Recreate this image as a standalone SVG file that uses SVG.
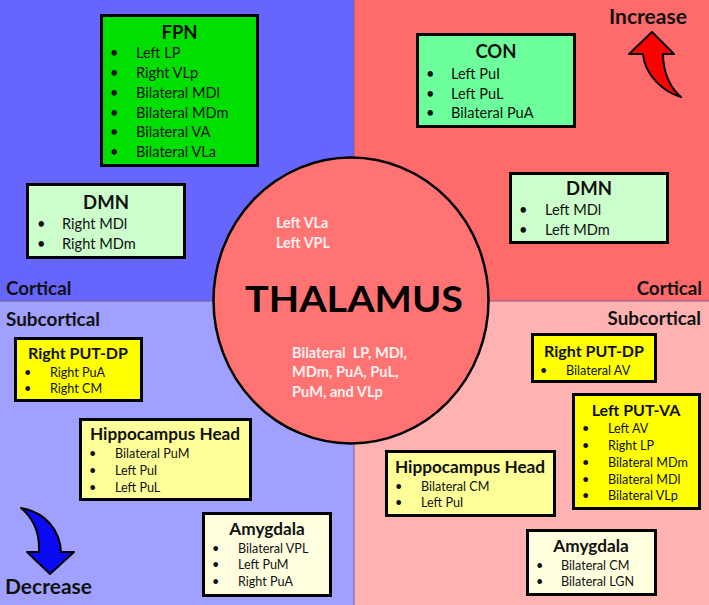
<svg xmlns="http://www.w3.org/2000/svg" width="709" height="605" viewBox="0 0 709 605">
<style>
.box{stroke:#000;stroke-width:3}
.t{font-family:Lato,"Liberation Sans",sans-serif;font-weight:bold;fill:#111;text-anchor:middle}
.tc{font-size:18.5px}
.ts{font-size:16px}
.tl{font-size:17.2px}
.i{font-family:Lato,"Liberation Sans",sans-serif;fill:#111}
.ic{font-size:14.6px}
.is{font-size:12.6px}
.lab{font-family:Lato,"Liberation Sans",sans-serif;font-weight:bold;fill:#111}
.lc{font-size:18.8px}
.la{font-size:21px}
.ct{font-family:Lato,"Liberation Sans",sans-serif;font-weight:bold;fill:#FFF0F0}
</style>
<g id="background">
<rect x="0" y="0" width="354" height="301" fill="#6666FF"/>
<rect x="354" y="0" width="355" height="301" fill="#FF6A6A"/>
<rect x="0" y="301" width="354" height="304" fill="#A0A0FF"/>
<rect x="354" y="301" width="355" height="304" fill="#FFB2B2"/>
<line x1="354" y1="0" x2="354" y2="605" stroke="#7a5f8f" stroke-width="1"/>
<line x1="0" y1="301" x2="709" y2="301" stroke="#7a5f8f" stroke-width="1"/>
</g>
<g id="labels">
<text class="lab lc" x="6" y="295">Cortical</text>
<text class="lab lc" x="702" y="295" text-anchor="end">Cortical</text>
<text class="lab lc" x="6" y="326" textLength="94" lengthAdjust="spacingAndGlyphs">Subcortical</text>
<text class="lab lc" x="701" y="325" text-anchor="end">Subcortical</text>
<text class="lab la" x="609" y="24">Increase</text>
<text class="lab la" x="5" y="594">Decrease</text>
</g>
<g id="thalamus">
<ellipse cx="351" cy="300.5" rx="137.5" ry="143" fill="#FF7373" stroke="#000" stroke-width="2.5"/>
<text class="ct" x="276" y="228" font-size="14.3px">Left VLa</text>
<text class="ct" x="276" y="248" font-size="14.3px">Left VPL</text>
<text x="245" y="312" font-family="Lato,'Liberation Sans',sans-serif" font-weight="bold" font-size="37px" fill="#000" textLength="218" lengthAdjust="spacingAndGlyphs">THALAMUS</text>
<text class="ct" x="292" y="358" font-size="14.6px" xml:space="preserve">Bilateral  LP, MDl,</text>
<text class="ct" x="292" y="377" font-size="14.6px">MDm, PuA, PuL,</text>
<text class="ct" x="292" y="397" font-size="14.6px">PuM, and VLp</text>
</g>
<g id="arrows">
<path id="increase-arrow" d="M652,32 L674,54 L663,54 C663,72 670,88 681,97 C664,92 645,76 643,54 L629,54 Z" fill="#FF0000" stroke="#000" stroke-width="2" stroke-linejoin="round"/>
<path id="decrease-arrow" d="M50,574 L74,552 L61,552 C60,530 45,512 21,508 C33,518 40,532 39,552 L27,552 Z" fill="#0A0AF5" stroke="#000" stroke-width="2" stroke-linejoin="round"/>
</g>
<g id="fpn">
<rect class="box" x="101.5" y="15.5" width="156" height="150" fill="#00E000"/>
<text class="t tc" x="179.5" y="39">FPN</text>
<g class="i ic">
<text x="110" y="58">•</text><text x="136" y="58">Left LP</text>
<text x="110" y="78">•</text><text x="136" y="78">Right VLp</text>
<text x="110" y="98">•</text><text x="136" y="98">Bilateral MDl</text>
<text x="110" y="117.5">•</text><text x="136" y="117.5">Bilateral MDm</text>
<text x="110" y="137">•</text><text x="136" y="137">Bilateral VA</text>
<text x="110" y="157">•</text><text x="136" y="157">Bilateral VLa</text>
</g>
</g>
<g id="dmn-left">
<rect class="box" x="27.5" y="184.5" width="157" height="73" fill="#CCFFCC"/>
<text class="t tc" x="106" y="209">DMN</text>
<g class="i ic">
<text x="37" y="229">•</text><text x="62" y="229">Right MDl</text>
<text x="37" y="249">•</text><text x="62" y="249">Right MDm</text>
</g>
</g>
<g id="con">
<rect class="box" x="417.5" y="34.5" width="157" height="92" fill="#6CFF9C"/>
<text class="t tc" x="496" y="58">CON</text>
<g class="i ic">
<text x="426" y="79">•</text><text x="451" y="79">Left PuI</text>
<text x="426" y="99">•</text><text x="451" y="99">Left PuL</text>
<text x="426" y="118">•</text><text x="451" y="118">Bilateral PuA</text>
</g>
</g>
<g id="dmn-right">
<rect class="box" x="510.5" y="173.5" width="157" height="69" fill="#CCFFCC"/>
<text class="t tc" x="589" y="195">DMN</text>
<g class="i ic">
<text x="519" y="215">•</text><text x="545" y="215">Left MDl</text>
<text x="519" y="235">•</text><text x="545" y="235">Left MDm</text>
</g>
</g>
<g id="right-put-dp-left">
<rect class="box" x="15.5" y="338.5" width="126" height="62" fill="#FFFF00"/>
<text class="t ts" x="78" y="359">Right PUT-DP</text>
<g class="i is">
<text x="24" y="377">•</text><text x="50" y="377">Right PuA</text>
<text x="24" y="393">•</text><text x="50" y="393">Right CM</text>
</g>
</g>
<g id="hippocampus-left">
<rect class="box" x="80.5" y="419.5" width="170" height="80" fill="#FFFF99"/>
<text class="t tl" x="165" y="440">Hippocampus Head</text>
<g class="i is">
<text x="89" y="458">•</text><text x="115" y="458">Bilateral PuM</text>
<text x="89" y="475">•</text><text x="115" y="475">Left PuI</text>
<text x="89" y="492">•</text><text x="115" y="492">Left PuL</text>
</g>
</g>
<g id="amygdala-left">
<rect class="box" x="203.5" y="513.5" width="127" height="82" fill="#FFFFE0"/>
<text class="t tl" x="267" y="535">Amygdala</text>
<g class="i is">
<text x="212" y="553">•</text><text x="238" y="553">Bilateral VPL</text>
<text x="212" y="569">•</text><text x="238" y="569">Left PuM</text>
<text x="212" y="586">•</text><text x="238" y="586">Right PuA</text>
</g>
</g>
<g id="right-put-dp-right">
<rect class="box" x="532.5" y="334.5" width="123" height="47" fill="#FFFF00"/>
<text class="t ts" x="594" y="357">Right PUT-DP</text>
<g class="i is">
<text x="540" y="375">•</text><text x="566" y="375">Bilateral AV</text>
</g>
</g>
<g id="left-put-va">
<rect class="box" x="573.5" y="394.5" width="126" height="114" fill="#FFFF00"/>
<text class="t ts" x="636" y="416">Left PUT-VA</text>
<g class="i is">
<text x="582" y="433">•</text><text x="608" y="433">Left AV</text>
<text x="582" y="450">•</text><text x="608" y="450">Right LP</text>
<text x="582" y="467">•</text><text x="608" y="467">Bilateral MDm</text>
<text x="582" y="483.5">•</text><text x="608" y="483.5">Bilateral MDl</text>
<text x="582" y="500">•</text><text x="608" y="500">Bilateral VLp</text>
</g>
</g>
<g id="hippocampus-right">
<rect class="box" x="386.5" y="451.5" width="168" height="64" fill="#FFFF99"/>
<text class="t tl" x="470" y="473">Hippocampus Head</text>
<g class="i is">
<text x="395" y="491">•</text><text x="421" y="491">Bilateral CM</text>
<text x="395" y="507">•</text><text x="421" y="507">Left PuI</text>
</g>
</g>
<g id="amygdala-right">
<rect class="box" x="527.5" y="530.5" width="128" height="64" fill="#FFFFE0"/>
<text class="t tl" x="591" y="552">Amygdala</text>
<g class="i is">
<text x="536" y="570">•</text><text x="561" y="570">Bilateral CM</text>
<text x="536" y="586">•</text><text x="561" y="586">Bilateral LGN</text>
</g>
</g>
</svg>
